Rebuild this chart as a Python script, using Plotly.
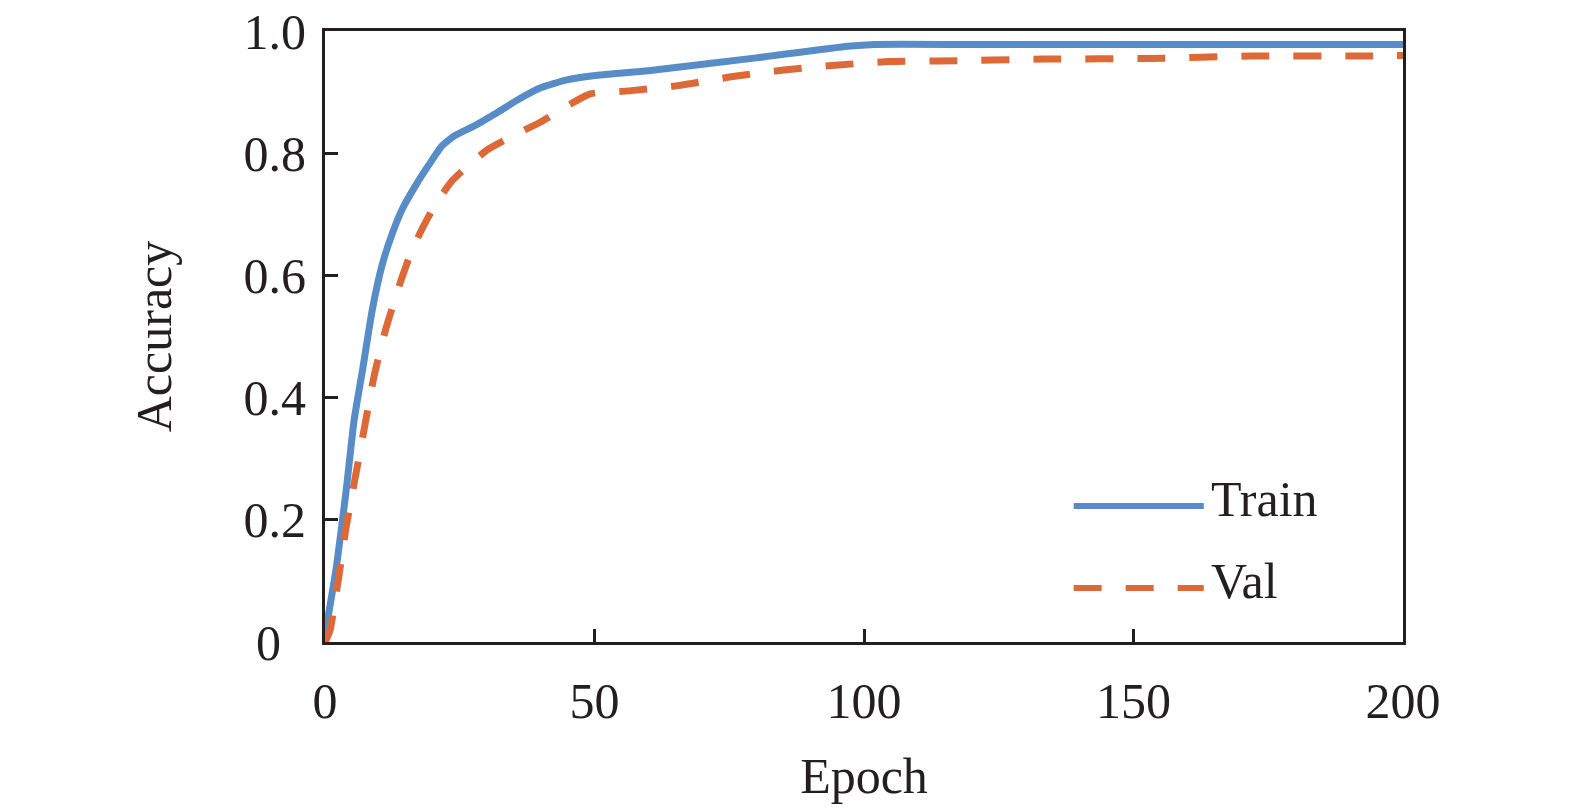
import plotly.graph_objects as go

train_epoch = [0, 0.5, 2.1, 3.9, 5.4, 7.0, 8.8, 10.6, 12.5, 14.3, 16.8, 19.2, 21.7, 24.1, 27.8,
               31.5, 35.7, 40.0, 44.9, 51.0, 60.0, 80.0, 97.0, 102.0, 120.0, 150.0, 200.0]
train_acc = [0.01, 0.037, 0.122, 0.246, 0.363, 0.447, 0.545, 0.617, 0.669, 0.708, 0.747, 0.780,
             0.812, 0.829, 0.845, 0.864, 0.887, 0.907, 0.920, 0.928, 0.935, 0.956, 0.975, 0.978,
             0.978, 0.978, 0.978]

val_epoch = [0, 0.9, 2.7, 3.9, 5.8, 7.3, 9.1, 11.3, 14.3, 16.2, 18.0, 20.4, 23.5, 26.6, 30.2,
             35.7, 40.0, 44.9, 49.2, 56.4, 65.8, 75.3, 85.2, 94.7, 104.7, 114, 133.5, 153, 172,
             192, 200]
val_acc = [0.0, 0.018, 0.115, 0.187, 0.278, 0.350, 0.435, 0.513, 0.597, 0.643, 0.676, 0.715,
           0.754, 0.780, 0.806, 0.832, 0.851, 0.877, 0.897, 0.902, 0.911, 0.925, 0.936, 0.944,
           0.950, 0.951, 0.954, 0.955, 0.959, 0.959, 0.960]

x_ticks = [0, 50, 100, 150, 200]
y_ticks = [0, 0.2, 0.4, 0.6, 0.8, 1.0]
y_ticktext = ["0\u2007", "0.2", "0.4", "0.6", "0.8", "1.0"]

BLUE = "#588CC6"
ORANGE = "#DC6937"
INK = "#231F20"
FONT = "Liberation Serif"
DASH = "28px,24px"

fig = go.Figure()
fig.add_trace(go.Scatter(x=train_epoch, y=train_acc, mode="lines", name="Train",
                         line=dict(color=BLUE, width=7, shape="spline", smoothing=0.5),
                         showlegend=False))
fig.add_trace(go.Scatter(x=val_epoch, y=val_acc, mode="lines", name="Val",
                         line=dict(color=ORANGE, width=7, dash=DASH, shape="spline", smoothing=0.5),
                         showlegend=False))

# custom legend (line samples + labels) in paper coordinates
legend_items = [("Train", BLUE, "solid", 0.2226, 0.234), ("Val", ORANGE, DASH, 0.0884, 0.100)]
for name, color, dash, ly, ty in legend_items:
    fig.add_shape(type="line", xref="paper", yref="paper", x0=0.6945, x1=0.8152, y0=ly, y1=ly,
                  line=dict(color=color, width=6, dash=dash))
    fig.add_annotation(text=name, xref="paper", yref="paper", x=0.820, y=ty, xanchor="left",
                       yanchor="middle", showarrow=False,
                       font=dict(family=FONT, size=50, color=INK))

axis_common = dict(showline=True, mirror=True, linewidth=3, linecolor=INK, ticks="inside",
                   ticklen=13, tickwidth=3, tickcolor=INK, showgrid=False, zeroline=False,
                   automargin=False, ticklabeloverflow="allow",
                   tickfont=dict(family=FONT, size=50, color=INK))

fig.update_xaxes(range=[0, 200], tickvals=x_ticks, ticklabelstandoff=13,
                 title=dict(text="Epoch", font=dict(family=FONT, size=50, color=INK), standoff=30),
                 **axis_common)
fig.update_yaxes(range=[0, 1], tickvals=y_ticks, ticktext=y_ticktext, ticklabelstandoff=6,
                 title=dict(text="Accuracy", font=dict(family=FONT, size=50, color=INK), standoff=57),
                 **axis_common)

fig.update_layout(width=1575, height=811, margin=dict(l=325, r=172, t=31, b=169, autoexpand=False),
                  plot_bgcolor="white", paper_bgcolor="white",
                  font=dict(family=FONT, color=INK))

fig.write_html("out.html", config={"displayModeBar": False},
               post_script="document.body.style.margin='0';document.body.style.overflow='hidden';")
